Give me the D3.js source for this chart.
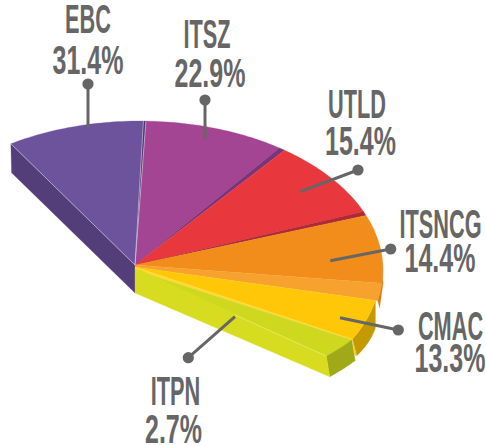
<!DOCTYPE html>
<html><head><meta charset="utf-8">
<script src="https://cdn.jsdelivr.net/npm/d3@7"></script>
<style>html,body{margin:0;background:#fff}svg{display:block}
text{font-family:"Liberation Sans Narrow","Liberation Sans",sans-serif;font-weight:700;fill:#666;text-anchor:middle}</style>
</head><body><svg id="c" width="486" height="446"></svg>
<script>
// Data
const categories = ["EBC","ITSZ","UTLD","ITSNCG","CMAC","ITPN"];
const shares = [31.4,22.9,15.4,14.4,13.3,2.7];
// Drawn sweep of each wedge (the artwork's fan is not proportional to the shares)
const topSweep = [32.9,33.6,30.4,26.6,16.1,8.7];
const cutSweep = [0.6,1.5,1.6,6.8,0.3,0];
const topColors = ["#6C539C","#A34592","#E8383D","#F28C1B","#FFC708","#CDD81E"];
const cutColors = ["#4A3870","#7C3377","#B02A34","#F7A12F","#FFC708","#CDD81E"];
const sideColors = ["#533E7A","#7C3377","#B02A34","#D97A10","#C49A02","#A0AA18"];

const W = {cx:140, cy:270, rx:243, ry:149, start:-32.1, depth:29};
const apexX = 135, apexY = [265,265,265,265,267,270];
const rimStart = [1,1,1,1,0.99,0.99], rimEnd = [1,1,1,1,0.99,0.96];

const rad = d => d*Math.PI/180;
const deg = r => r*180/Math.PI;
const x = d3.scaleLinear().domain([-1,1]).range([W.cx-W.rx,W.cx+W.rx]);
const y = d3.scaleLinear().domain([-1,1]).range([W.cy+W.ry,W.cy-W.ry]);
const rim = (a,f=1) => [x(Math.sin(rad(a))*f), y(Math.cos(rad(a))*f)];

const arcs = d3.pie().sort(null).value(d=>d.top+d.cut)
  .startAngle(rad(W.start)).endAngle(rad(W.start+d3.sum(topSweep)+d3.sum(cutSweep)))
  (categories.map((c,i)=>({c,i,top:topSweep[i],cut:cutSweep[i]})));

const svg = d3.select("#c");
const line = d3.line();
function rimPts(a0,a1,f0,f1=f0){
  const n=Math.max(2,Math.ceil(a1-a0));
  return d3.range(n+1).map(k=>rim(a0+(a1-a0)*k/n,f0+(f1-f0)*k/n));
}
function fill(points,color){
  return svg.append("path").attr("d",line(points)+"Z").attr("fill",color).attr("stroke",color).attr("stroke-width",.3);
}

// Angles of the fan
const starts=arcs.map(a=>deg(a.startAngle)), ends=arcs.map(a=>deg(a.endAngle));

// Left outer wall
const pL=rim(starts[0]);
fill([pL,[pL[0]+.7,pL[1]+W.depth],[apexX,265+W.depth-1],[apexX,265]],sideColors[0]);

// Yellow outer wall: its drop shrinks toward the front
const yPts=rimPts(starts[4],starts[4]+topSweep[4],rimStart[4]);
const yLow=yPts.map((p,k)=>{const t=k/(yPts.length-1);return [p[0]+4.3*t,p[1]+27.5-11*t];}).reverse();
fill([...yPts,...yLow],sideColors[4]);
const yEnd=yPts[yPts.length-1];
fill([yEnd,[yEnd[0]+4.3,yEnd[1]+16.5],[yEnd[0]+2.5,yEnd[1]+16]],"#FFC708");
// Sliver of the orange outer wall
const oA=rim(ends[3]-cutSweep[3]), oB=rim(ends[3]);
fill([[oA[0],oA[1]-8],[oA[0]+1,oA[1]],[oB[0]+1.8,oB[1]+7],oB],"#D97A10");

// Top faces and the cut faces next to them
arcs.forEach((a,i)=>{
  const aMid=starts[i]+topSweep[i];
  if(i===5) return;
  fill([[apexX,apexY[i]],...rimPts(starts[i],aMid,rimStart[i])],topColors[i]);
  if(i===3) fill([[apexX,265],...rimPts(aMid,ends[i],1),[apexX,apexY[4]]],cutColors[i]);
  else if(i<3) fill([[apexX,apexY[i]],...rimPts(aMid,ends[i],1)],cutColors[i]);
});

// Green: top, bright seam, olive end and front face
const gPts=rimPts(starts[5],ends[5],rimStart[5],rimEnd[5]);
const gOut=gPts[0], gIn=gPts[gPts.length-1];
const drop=[3.4,20.7];
fill([[apexX,apexY[4]],yEnd,gOut,[apexX,apexY[5]]],"#FFD833");
fill([[apexX,apexY[5]],...gPts],topColors[5]);
fill([...gPts,...gPts.slice().reverse().map(p=>[p[0]+drop[0],p[1]+drop[1]])],sideColors[5]);
fill([[apexX+5,apexY[5]],gIn,[gIn[0]+drop[0],gIn[1]+drop[1]],[apexX,265+W.depth-1],[apexX,apexY[5]]],"#D8DC20");
svg.append("path").attr("fill","none").attr("stroke","#F0F08A").attr("stroke-width",.5)
  .attr("d",line([[apexX+100,315],gIn]));

// Thin highlight seams
[rim(W.start), rim(W.start+topSweep[0]), rim(W.start+topSweep[0]+cutSweep[0])].forEach(p=>{
  svg.append("path").attr("stroke","#D5CCE6").attr("stroke-width",.6).attr("fill","none")
   .attr("d",line([[apexX,265],p]));
});

// Leaders
const leaders=[[88,84,88,128],[205,100,205,139],[358,170,300.3,191.7],[390.7,249,330.3,260.7],[398.3,330,340,317.7],[188.3,357.7,235,316.7]];
const leaderG=svg.append("g");
leaders.forEach(l=>{
  leaderG.append("line").attr("x1",l[0]).attr("y1",l[1]).attr("x2",l[2]).attr("y2",l[3]).attr("stroke","#666").attr("stroke-width",3);
  leaderG.append("circle").attr("cx",l[0]).attr("cy",l[1]).attr("r",5.6).attr("fill","#666");
});

// Labels: name baseline and share baseline, centre x of each
const labelPos=[[88,33,88,74],[207,48,210,87],[357,118,360.5,155],[440.5,238,440,272],[450.5,340,450,372],[175.5,405,173.5,443]];
categories.forEach((c,i)=>{
  const p=labelPos[i];
  [[c,p[0],p[1],0.53],[shares[i].toFixed(1)+"%",p[2],p[3],0.61]].forEach(t=>{
    svg.append("text").attr("transform",`translate(${t[1]},${t[2]}) scale(${t[3]},1)`)
      .attr("font-size",41).text(t[0]);
  });
});
</script></body></html>
